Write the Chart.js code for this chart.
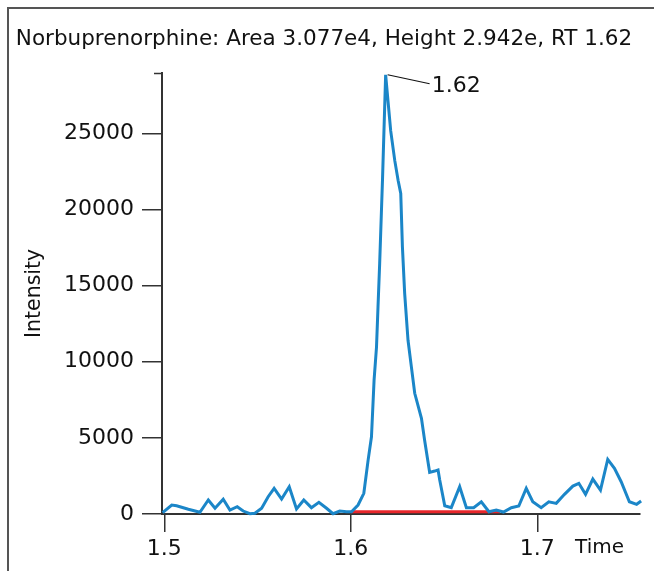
<!DOCTYPE html>
<html>
<head>
<meta charset="utf-8">
<script src="https://cdn.jsdelivr.net/npm/chart.js@4"></script>
<style>
  html, body { margin: 0; padding: 0; background: #fff; }
  #wrap { width: 654px; height: 571px; }
</style>
</head>
<body>
<div id="wrap"><canvas id="chrom" width="654" height="571"></canvas></div>
<script>
// ---- data ----
const times = [
  1.4991, 1.5040, 1.5066, 1.5129, 1.5191, 1.5236, 1.5272, 1.5316, 1.5352, 1.5391,
  1.5423, 1.5459, 1.5486, 1.5522, 1.5557, 1.5589, 1.5629, 1.5670, 1.5709, 1.5748,
  1.5789, 1.5829, 1.5870, 1.5905, 1.5941, 1.5977, 1.6004, 1.6039, 1.6070, 1.6093,
  1.6111, 1.6125, 1.6138, 1.6146, 1.6155, 1.6164, 1.6170, 1.6187, 1.6214, 1.6236,
  1.6254, 1.6268, 1.6277, 1.6289, 1.6307, 1.6325, 1.6343, 1.6379, 1.6396, 1.6423,
  1.6450, 1.6468, 1.6477, 1.6504, 1.6539, 1.6584, 1.6620, 1.6659, 1.6700, 1.6741,
  1.6780, 1.6819, 1.6861, 1.6901, 1.6941, 1.6976, 1.7021, 1.7062, 1.7102, 1.7146,
  1.7191, 1.7223, 1.7259, 1.7298, 1.7339, 1.7378, 1.7414, 1.7450, 1.7494, 1.7533,
  1.7557
];
const intensity = [
  85, 590, 545, 310, 110, 920, 375, 965, 260, 480,
  195, 20, 45, 375, 1135, 1685, 985, 1790, 330, 920,
  415, 765, 375, 20, 195, 150, 150, 590, 1360, 3540,
  5070, 8790, 10970, 13590, 16460, 19740, 21900, 28850, 25180, 23210,
  21900, 21050, 17530, 14490, 11410, 9660, 7930, 6290, 4850, 2730,
  2820, 2890, 2230, 545, 415, 1790, 415, 415, 805, 150,
  260, 130, 415, 525, 1685, 805, 415, 805, 700, 1290,
  1835, 2015, 1290, 2295, 1575, 3590, 3000, 2120, 805, 635,
  850
];
// integration baseline (red)
const baseTimes = [1.600, 1.680];
const baseLevel = [150, 150];

const yTicks = [0, 5000, 10000, 15000, 20000, 25000];
const xTicks = [1.5, 1.6, 1.7];

const titleText = 'Norbuprenorphine: Area 3.077e4, Height 2.942e, RT 1.62';
const FONT = '"DejaVu Sans", Lato, sans-serif';
const AXIS = '#333';

// ---- extras drawn on top: frame, axis cap, Time label, peak tag ----
const decor = {
  id: 'decor',
  afterDraw(chart) {
    const { ctx, chartArea, scales } = chart;
    const y = scales.y;
    ctx.save();
    // outer frame (left + top)
    ctx.strokeStyle = '#555';
    ctx.lineWidth = 2;
    ctx.beginPath();
    ctx.moveTo(8, chart.height);
    ctx.lineTo(8, 8);
    ctx.lineTo(chart.width, 8);
    ctx.stroke();

    // small cap at top of y axis
    const topY = Math.round(y.getPixelForValue(y.max)) + 0.5;
    ctx.strokeStyle = AXIS;
    ctx.lineWidth = 1.5;
    ctx.beginPath();
    ctx.moveTo(chartArea.left - 8, topY);
    ctx.lineTo(chartArea.left, topY);
    ctx.stroke();

    // "Time" sits beside the x tick labels
    ctx.fillStyle = '#111';
    ctx.font = '20px ' + FONT;
    ctx.textAlign = 'right';
    ctx.textBaseline = 'middle';
    ctx.fillText('Time', chartArea.right - 16, chartArea.bottom + 34);

    // peak retention time tag
    let iMax = 0;
    intensity.forEach((v, i) => { if (v > intensity[iMax]) iMax = i; });
    const pt = chart.getDatasetMeta(0).data[iMax];
    ctx.strokeStyle = '#111';
    ctx.lineWidth = 1.2;
    ctx.beginPath();
    ctx.moveTo(pt.x + 2, pt.y);
    ctx.lineTo(pt.x + 44, pt.y + 9);
    ctx.stroke();
    ctx.font = '22px ' + FONT;
    ctx.textAlign = 'left';
    ctx.fillText(times[iMax].toFixed(2), pt.x + 46, pt.y + 12);
    ctx.restore();
  }
};

new Chart(document.getElementById('chrom'), {
  type: 'line',
  data: {
    datasets: [
      {
        data: times.map((t, i) => ({ x: t, y: intensity[i] })),
        borderColor: '#1b86c8',
        borderWidth: 3,
        pointRadius: 0,
        tension: 0,
        fill: false
      },
      {
        data: baseTimes.map((t, i) => ({ x: t, y: baseLevel[i] })),
        borderColor: '#e8262b',
        borderWidth: 3,
        pointRadius: 0,
        fill: false
      }
    ]
  },
  options: {
    responsive: false,
    animation: false,
    clip: false,
    layout: { padding: { left: 8, right: 14, top: 0, bottom: 0 } },
    plugins: {
      legend: { display: false },
      tooltip: { enabled: false },
      title: {
        display: true,
        text: titleText,
        color: '#111',
        font: { family: FONT, size: 21.5, weight: 'normal' },
        padding: { top: 27, bottom: 20 }
      }
    },
    scales: {
      x: {
        type: 'linear',
        min: 1.49877,
        max: 1.7551,
        afterFit: s => { s.height = 57; },
        afterBuildTicks: s => { s.ticks = xTicks.map(v => ({ value: v })); },
        grid: { drawOnChartArea: false, tickLength: 18, color: AXIS, lineWidth: 1.5 },
        border: { color: AXIS, width: 2 },
        ticks: {
          color: '#111',
          padding: 4,
          maxRotation: 0,
          font: { family: FONT, size: 22 },
          callback: v => v.toFixed(1)
        }
      },
      y: {
        min: 0,
        max: 28980,
        afterFit: s => { s.width = 154; },
        afterBuildTicks: s => { s.ticks = yTicks.map(v => ({ value: v })); },
        grid: { drawOnChartArea: false, tickLength: 20, color: AXIS, lineWidth: 1.5 },
        border: { color: AXIS, width: 2 },
        ticks: {
          color: '#111',
          padding: 8,
          font: { family: FONT, size: 22 },
          callback: v => String(v)
        },
        title: {
          display: true,
          text: 'Intensity',
          color: '#111',
          font: { family: FONT, size: 20.5, weight: 'normal' },
          padding: { top: 14, bottom: 0 }
        }
      }
    }
  },
  plugins: [decor]
});
</script>
</body>
</html>
